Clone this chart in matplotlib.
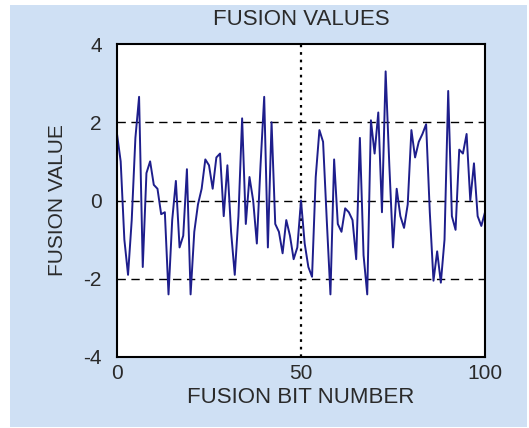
import numpy as np
import matplotlib
matplotlib.use("Agg")
import matplotlib.pyplot as plt
from matplotlib.patches import Rectangle

plt.rcParams['font.family'] = ['Liberation Sans', 'DejaVu Sans']
plt.rcParams['axes.unicode_minus'] = False

# Data
bit_number = list(range(0, 101))
fusion_values = [
    1.7, 1.0, -1.0, -1.9, -0.5, 1.6, 2.65, -1.7, 0.7, 1.0,
    0.4, 0.3, -0.35, -0.3, -2.4, -0.5, 0.5, -1.2, -0.9, 0.8,
    -2.4, -0.8, -0.1, 0.3, 1.05, 0.9, 0.3, 1.1, 1.2, -0.4,
    0.9, -0.8, -1.9, -0.4, 2.1, -0.6, 0.6, 0.0, -1.1, 0.9,
    2.65, -1.2, 2.0, -0.6, -0.8, -1.35, -0.5, -0.9, -1.5, -1.2,
    0.0, -1.1, -1.7, -1.95, 0.6, 1.8, 1.5, -0.5, -2.4, 1.05,
    -0.6, -0.8, -0.2, -0.3, -0.5, -1.5, 1.6, -1.4, -2.4, 2.05,
    1.2, 2.25, -0.3, 3.3, 0.9, -1.2, 0.3, -0.4, -0.7, -0.1,
    1.8, 1.1, 1.5, 1.7, 1.95, -0.3, -2.05, -1.3, -2.1, -1.0,
    2.8, -0.4, -0.75, 1.3, 1.2, 1.7, 0.0, 0.95, -0.4, -0.65,
    -0.3,
]
x_ticks = [0, 50, 100]
y_ticks = [-4, -2, 0, 2, 4]

W, H = 529, 428
fig = plt.figure(figsize=(W / 100, H / 100), dpi=100, facecolor='white')
bg = Rectangle((10 / W, 1 / H), (W - 12) / W, (H - 6) / H,
               transform=fig.transFigure, facecolor='#cfe0f4',
               edgecolor='none', zorder=-10)
fig.add_artist(bg)

left, right, top, bottom = 117, 485, 44, 357
ax = fig.add_axes([left / W, (H - bottom) / H, (right - left) / W, (bottom - top) / H])
ax.set_zorder(5)
ax.set_facecolor('white')

# grid lines
for yv in y_ticks[1:-1]:
    ax.axhline(yv, color='black', lw=1.0, ls=(0, (6, 4)), zorder=1)
for xv in x_ticks[1:-1]:
    ax.axvline(xv, color='black', lw=1.6, ls=(0, (1.2, 2.2)), zorder=1)

ax.plot(bit_number, fusion_values, color='#1e1e8c', lw=1.4, zorder=2)

ax.set_xlim(0, 100)
ax.set_ylim(-4, 4)
ax.set_xticks(x_ticks)
ax.set_yticks(y_ticks)
ax.tick_params(axis='both', length=0, labelsize=15, colors='#2a2a2a')
ax.tick_params(axis='y', pad=11)
ax.tick_params(axis='x', pad=5)
for s in ax.spines.values():
    s.set_linewidth(1.5)
    s.set_color('black')

ax.set_title('FUSION VALUES', fontsize=16, color='#2a2a2a', pad=14)
ax.set_xlabel('FUSION BIT NUMBER', fontsize=16, color='#2a2a2a', labelpad=3)
ax.set_ylabel('FUSION VALUE', fontsize=15, color='#2a2a2a', labelpad=12)

fig.savefig('out.png', dpi=100, facecolor=fig.get_facecolor())
